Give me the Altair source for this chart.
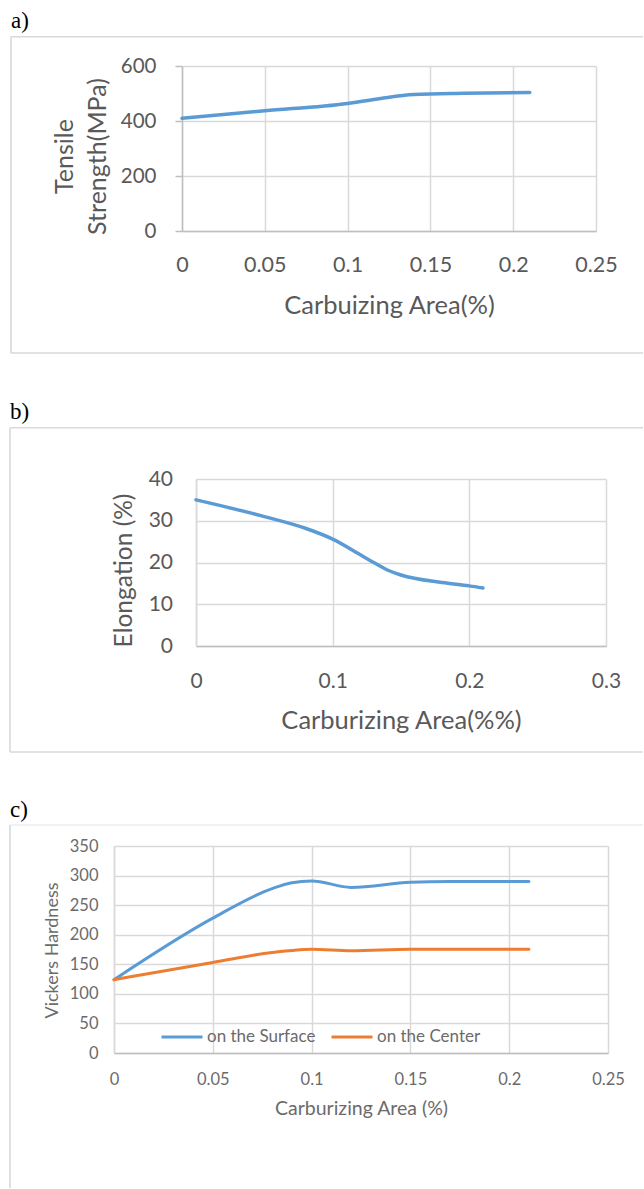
import altair as alt
import pandas as pd

# ---------------- data ----------------
# a) tensile strength
a_x = [0, 0.05, 0.1, 0.12, 0.14, 0.17, 0.21]
a_tensile = [410, 437, 464, 482, 496, 501, 504]
a_xticks = [0, 0.05, 0.1, 0.15, 0.2, 0.25]
a_yticks = [0, 200, 400, 600]

# b) elongation
b_x = [0, 0.05, 0.08, 0.1, 0.12, 0.13, 0.14, 0.15, 0.18, 0.2, 0.21]
b_elong = [35, 31, 28.2, 25.6, 21.9, 20.0, 18.2, 17.0, 15.2, 14.4, 13.9]
b_xticks = [0, 0.1, 0.2, 0.3]
b_yticks = [0, 10, 20, 30, 40]

# c) vickers hardness
c_x = [0, 0.05, 0.08, 0.09, 0.1, 0.12, 0.15, 0.17, 0.21]
c_surface = [124, 228, 278, 288, 291, 280, 288.5, 290, 290]
c_center = [124, 153, 170, 173.5, 175.5, 173, 175.5, 175.5, 175.5]
c_series = ["on the Surface", "on the Center"]
c_xticks = [0, 0.05, 0.1, 0.15, 0.2, 0.25]
c_yticks = [0, 50, 100, 150, 200, 250, 300, 350]

BLUE = "#5B9BD5"
ORANGE = "#ED7D31"
GRID = "#d9d9d9"
AXIS = "#bfbfbf"
TXT = "#595959"
FONT = "Lato"
PAGE_W = 644
SP = 4  # width of the invisible spacer column in each row

ONE = pd.DataFrame({"k": [0]})


def frame(plot_left, plot_top, ext_top, ext_bottom, box_left, box_top, box_bottom,
          label, label_x, label_base, top_color, side_color):
    one = alt.Chart(ONE)
    L = box_left - plot_left
    R = PAGE_W - 1 - plot_left
    T = box_top - plot_top
    layers = [
        one.mark_rect(opacity=0).encode(
            x=alt.value(-(plot_left - SP)), x2=alt.value(PAGE_W - plot_left),
            y=alt.value(ext_top - plot_top), y2=alt.value(ext_bottom - plot_top)),
        one.mark_rule(color=top_color, strokeWidth=1.6).encode(
            x=alt.value(L), x2=alt.value(R), y=alt.value(T)),
    ]
    if box_bottom is not None:
        B = box_bottom - plot_top
        layers.append(one.mark_rule(color=side_color, strokeWidth=1.6).encode(
            x=alt.value(L), y=alt.value(T), y2=alt.value(B)))
        layers.append(one.mark_rule(color=side_color, strokeWidth=1.6).encode(
            x=alt.value(L), x2=alt.value(R), y=alt.value(B)))
    else:
        layers.append(one.mark_rule(color=side_color, strokeWidth=1.6).encode(
            x=alt.value(L), y=alt.value(T), y2=alt.value(ext_bottom - plot_top - 1)))
    layers.append(one.mark_text(text=label, align="left", baseline="alphabetic",
                                font="Liberation Serif", fontSize=23, color="black").encode(
        x=alt.value(label_x - plot_left), y=alt.value(label_base - plot_top)))
    return layers


def spacer():
    return alt.Chart(ONE).mark_rect(opacity=0).encode(
        x=alt.value(0), x2=alt.value(SP), y=alt.value(0), y2=alt.value(1)
    ).properties(width=SP, height=1)


def xaxis(values, title, w, lab_pad, lab_size, title_y, title_size, color, domain_color):
    return alt.Axis(values=values, format="~r", grid=True, gridColor=GRID, gridWidth=1.5,
                    domainColor=domain_color, domainWidth=1.5, ticks=False, tickSize=0,
                    labelPadding=lab_pad, labelBaseline="alphabetic", labelFont=FONT,
                    labelFontSize=lab_size, labelColor=color, labelFlush=False,
                    labelOverlap=False, title=title, titleFont=FONT, titleFontSize=title_size,
                    titleFontWeight="normal", titleColor=color, titleX=w / 2, titleY=title_y,
                    titleBaseline="alphabetic", titleAlign="center")


def yaxis(values, title, lab_pad, lab_size, title_x, title_y, title_size, color,
          domain_color, tick_size=0, line_h=None):
    kw = dict(values=values, format="~r", grid=True, gridColor=GRID, gridWidth=1.5,
              domainColor=domain_color, domainWidth=1.5, labelPadding=lab_pad,
              labelFont=FONT, labelFontSize=lab_size, labelColor=color, labelFlush=False,
              labelOverlap=False, title=title, titleFont=FONT, titleFontSize=title_size,
              titleFontWeight="normal", titleColor=color, titleX=title_x, titleY=title_y,
              titleBaseline="alphabetic", titleAlign="center", titleAngle=270)
    if tick_size > 0:
        kw.update(ticks=True, tickSize=tick_size, tickColor=AXIS, tickWidth=1.5)
    else:
        kw.update(ticks=False, tickSize=0)
    if line_h is not None:
        kw.update(titleLineHeight=line_h)
    return alt.Axis(**kw)


# ---------------- panel a ----------------
A_L, A_T, A_W, A_H = 182, 66, 414, 165
df_a = pd.DataFrame({"x": a_x, "y": a_tensile})
line_a = alt.Chart(df_a).mark_line(interpolate="monotone", strokeWidth=3.5, color=BLUE,
                                   strokeCap="round").encode(
    x=alt.X("x:Q", scale=alt.Scale(domain=[0, 0.25], nice=False),
            axis=xaxis(a_xticks, "Carbuizing Area(%)", A_W, 40.7, 21.5, 82, 25.5, TXT, AXIS)),
    y=alt.Y("y:Q", scale=alt.Scale(domain=[0, 600], nice=False),
            axis=yaxis(a_yticks, ["Tensile", "Strength(MPa)"], 19, 20.5, -110, 90, 25, TXT,
                       AXIS, tick_size=7, line_h=33)),
)
panel_a = alt.layer(*frame(A_L, A_T, 0, 380, 11, 36.7, 353, "a)", 11, 28.3, GRID, GRID),
                    line_a).properties(width=A_W, height=A_H)

# ---------------- panel b ----------------
B_L, B_T, B_W, B_H = 196, 479, 410, 167
df_b = pd.DataFrame({"x": b_x, "y": b_elong})
line_b = alt.Chart(df_b).mark_line(interpolate="monotone", strokeWidth=3.5, color=BLUE,
                                   strokeCap="round").encode(
    x=alt.X("x:Q", scale=alt.Scale(domain=[0, 0.3], nice=False),
            axis=xaxis(b_xticks, "Carburizing Area(%%)", B_W, 41, 21, 82.5, 25.5, TXT, AXIS)),
    y=alt.Y("y:Q", scale=alt.Scale(domain=[0, 40], nice=False),
            axis=yaxis(b_yticks, "Elongation (%)", 23.5, 21, -65, 91, 24.5, TXT, GRID)),
)
panel_b = alt.layer(*frame(B_L, B_T, 380, 770, 10, 427.7, 752, "b)", 10, 419.3, GRID, GRID),
                    line_b).properties(width=B_W, height=B_H)

# ---------------- panel c ----------------
C_L, C_T, C_W, C_H = 114, 846, 494, 207
df_c = pd.concat([
    pd.DataFrame({"x": c_x, "y": c_surface, "series": c_series[0]}),
    pd.DataFrame({"x": c_x, "y": c_center, "series": c_series[1]}),
])
CTXT = "#6b6b6b"
line_c = alt.Chart(df_c).mark_line(interpolate="monotone", strokeWidth=3,
                                   strokeCap="round").encode(
    x=alt.X("x:Q", scale=alt.Scale(domain=[0, 0.25], nice=False),
            axis=xaxis(c_xticks, "Carburizing Area (%)", C_W, 31.7, 16.5, 61.7, 19.5, CTXT, AXIS)),
    y=alt.Y("y:Q", scale=alt.Scale(domain=[0, 350], nice=False),
            axis=yaxis(c_yticks, "Vickers Hardness", 16, 16.5, -57, 104, 18, CTXT, GRID)),
    color=alt.Color("series:N", scale=alt.Scale(domain=c_series, range=[BLUE, ORANGE]),
                    legend=alt.Legend(orient="none", legendX=46, legendY=169,
                                      direction="horizontal", title=None, symbolType="stroke",
                                      symbolSize=1681, symbolStrokeWidth=3, labelFont=FONT,
                                      labelFontSize=17, labelColor=CTXT, labelOffset=3,
                                      columnPadding=9, padding=0)),
    detail="series:N",
)
panel_c = alt.layer(*frame(C_L, C_T, 770, 1189, 10, 825, None, "c)", 10, 817.3, "#eeeeee", GRID),
                    line_c).properties(width=C_W, height=C_H)

chart = alt.vconcat(
    alt.hconcat(spacer(), panel_a, spacing=0),
    alt.hconcat(spacer(), panel_b, spacing=0),
    alt.hconcat(spacer(), panel_c, spacing=0).resolve_scale(color="independent"),
    spacing=0,
).resolve_scale(color="independent").properties(padding=0, background="white"
                                                 ).configure_view(stroke=None)

chart.save("out.html", embed_options={"renderer": "svg", "actions": False})
